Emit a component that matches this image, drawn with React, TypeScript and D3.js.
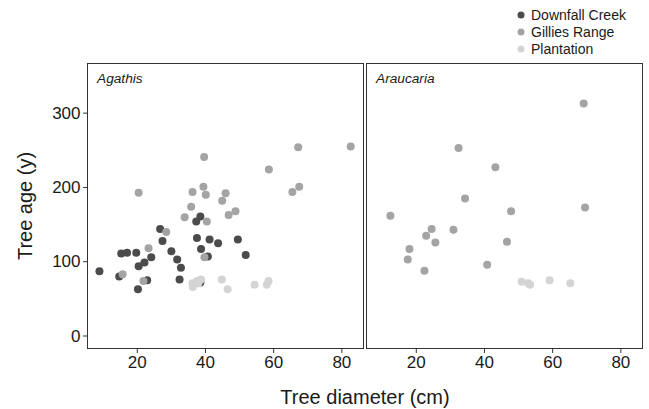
import React from "react";
import * as d3 from "d3";

const sites = ["Downfall Creek", "Gillies Range", "Plantation"];
const siteColors = ["#4b4b4b", "#a4a4a4", "#d4d4d4"];
const panels = ["Agathis", "Araucaria"];
const xTicks = [20, 40, 60, 80];
const yTicks = [0, 100, 200, 300];

// Agathis
const agDownDiam = [8.9, 15.3, 17.0, 14.7, 19.7, 20.4, 22.1, 24.1, 20.2, 22.9, 26.7, 27.4, 30.0, 31.7, 32.8, 32.4, 37.5, 38.7, 37.3, 38.5, 41.2, 43.7, 40.7, 49.5, 51.8, 38.5];
const agDownAge = [87, 111, 112, 80, 112, 94, 99, 106, 63, 75, 144, 128, 114, 103, 92, 76, 132, 117, 154, 161, 130, 125, 107, 130, 109, 72];
const agGillDiam = [20.4, 15.7, 23.3, 21.8, 28.5, 33.9, 35.8, 36.2, 39.4, 40.1, 39.6, 40.4, 39.7, 44.9, 45.9, 46.8, 48.8, 58.6, 65.5, 67.5, 67.2, 82.6];
const agGillAge = [193, 83, 118, 74, 140, 160, 174, 194, 201, 190, 241, 154, 106, 182, 192, 163, 168, 224, 194, 201, 254, 255];
const agPlanDiam = [36.3, 36.2, 37.5, 38.7, 37.9, 44.8, 46.5, 54.4, 58.0, 58.5];
const agPlanAge = [66, 71, 74, 76, 71, 76, 63, 69, 69, 74];

// Araucaria
const arGillDiam = [12.4, 18.0, 17.5, 22.4, 22.9, 24.5, 25.6, 30.9, 32.4, 34.3, 40.8, 43.2, 46.6, 47.8, 69.1, 69.5];
const arGillAge = [162, 117, 103, 88, 135, 144, 126, 143, 253, 185, 96, 227, 127, 168, 313, 173];
const arPlanDiam = [50.9, 52.8, 53.4, 59.1, 65.2];
const arPlanAge = [73, 71, 69, 75, 71];

const panelData = [
  [
    { diam: agDownDiam, age: agDownAge, site: 0 },
    { diam: agGillDiam, age: agGillAge, site: 1 },
    { diam: agPlanDiam, age: agPlanAge, site: 2 },
  ],
  [
    { diam: arGillDiam, age: arGillAge, site: 1 },
    { diam: arPlanDiam, age: arPlanAge, site: 2 },
  ],
];

export default function App() {
  const W = 649, H = 409;
  const top = 63, bottom = 349;
  const panelLeft = [87, 366];
  const panelW = 277;
  const y = d3.scaleLinear().domain([-17.5, 367.5]).range([bottom, top]);
  const font = "'Liberation Sans', Arial, Helvetica, sans-serif";
  const axisCol = "#333333";

  return (
    <svg width={W} height={H} style={{ position: "absolute", left: 0, top: 0, background: "#fff" }} fontFamily={font}>
      {panels.map((name, pi) => {
        const x0 = panelLeft[pi];
        const x = d3.scaleLinear().domain([5.25, 86.5]).range([x0, x0 + panelW]);
        return (
          <g key={name}>
            <rect x={x0 + 0.5} y={top + 0.5} width={panelW - 1} height={bottom - top - 1} fill="#fff" stroke={axisCol} strokeWidth={1} />
            <text x={x0 + 10} y={83} fontSize={13.7} fontStyle="italic" fill="#1a1a1a">{name}</text>
            {panelData[pi].map((s) =>
              s.diam.map((d, i) => (
                <circle key={`${s.site}-${i}`} cx={x(d)} cy={y(s.age[i])} r={4} fill={siteColors[s.site]} />
              ))
            )}
            {xTicks.map((t) => (
              <g key={t}>
                <line x1={x(t)} x2={x(t)} y1={bottom} y2={bottom + 4} stroke={axisCol} />
                <text x={x(t)} y={362} fontSize={17} textAnchor="middle" dominantBaseline="central" fill="#1a1a1a">{t}</text>
              </g>
            ))}
          </g>
        );
      })}
      {yTicks.map((t) => (
        <g key={t}>
          <line x1={83} x2={87} y1={y(t)} y2={y(t)} stroke={axisCol} />
          <text x={80.5} y={y(t)} fontSize={17} textAnchor="end" dominantBaseline="central" fill="#1a1a1a">{t}</text>
        </g>
      ))}
      <text x={365} y={404} fontSize={20} textAnchor="middle" fill="#1a1a1a">Tree diameter (cm)</text>
      <text transform={`translate(32,${(top + bottom) / 2}) rotate(-90)`} fontSize={20} textAnchor="middle" fill="#1a1a1a">Tree age (y)</text>
      {sites.map((s, i) => (
        <g key={s}>
          <circle cx={521} cy={15 + i * 17} r={3.5} fill={siteColors[i]} />
          <text x={531} y={15 + i * 17} fontSize={14} dominantBaseline="central" fill="#1a1a1a">{s}</text>
        </g>
      ))}
    </svg>
  );
}
